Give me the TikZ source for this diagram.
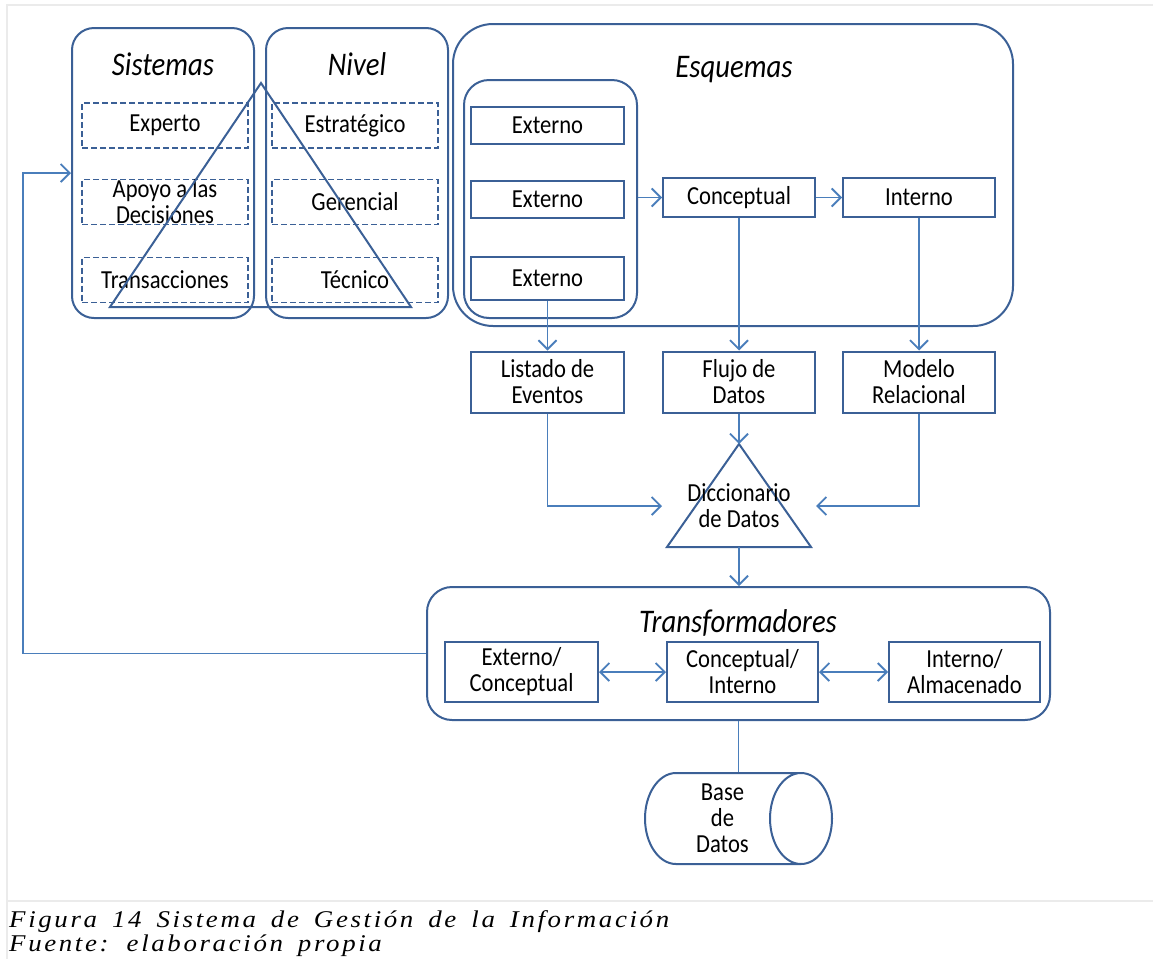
\documentclass[tikz,border=0pt]{standalone}
\usepackage{fontspec}
\setmainfont{Carlito}[FakeStretch=0.87]
\newfontfamily\leyenda{Liberation Serif}[FakeStretch=1.12, LetterSpace=11, WordSpace=1.6]
\usetikzlibrary{shapes,arrows.meta}
\definecolor{azulOsc}{HTML}{3B6096}
\definecolor{azulClaro}{HTML}{4A7EBB}
\definecolor{grisMarco}{HTML}{EBEBEB}

\begin{document}
\begin{tikzpicture}[x=1pt,y=-1pt]
        \tikzstyle{texto}=[font=\fontsize{26}{26}\selectfont, align=center, inner sep=0pt]
        \tikzstyle{titulo}=[font=\fontsize{33}{33}\selectfont\itshape, inner sep=0pt, anchor=base]
        \tikzstyle{caja}=[texto, draw=azulOsc, line width=2pt]
        \tikzstyle{punteada}=[caja, dash pattern=on 6pt off 3pt, line width=1.8pt, minimum width=166pt, minimum height=45pt]
        \tikzstyle{grupo}=[draw=azulOsc, line width=2pt, rounded corners=22pt]
        \tikzstyle{flecha}=[draw=azulClaro, line width=1.8pt, -{Straight Barb[length=9pt,width=18pt]}]
        \tikzstyle{doble}=[draw=azulClaro, line width=1.8pt, {Straight Barb[length=9pt,width=18pt]}-{Straight Barb[length=9pt,width=18pt]}]
        \tikzstyle{linea}=[draw=azulClaro, line width=1.8pt]
        \tikzstyle{leyenda}=[anchor=base west, inner sep=0pt, font=\leyenda\fontsize{24}{24}\selectfont\itshape]
        \useasboundingbox (0,0) rectangle (1153,959);
        \draw[grisMarco, line width=1.5pt] (7,959) -- (7,5) -- (1153,5);
        \draw[grisMarco, line width=1.5pt] (7,901) -- (1153,901);

        \node[grupo, minimum width=182pt, minimum height=290pt] (sis) at (163,173) {};
        \node[grupo, minimum width=182pt, minimum height=290pt] (niv) at (357,173) {};
        \node[titulo] (sistit) at (163,75) {Sistemas};
        \node[titulo] (nivtit) at (357,75) {Nivel};
        \node[punteada] (experto) at (165,125.5) {Experto};
        \node[punteada] (apoyo) at (165,202) {Apoyo a las\\Decisiones};
        \node[punteada] (transac) at (165,280) {Transacciones};
        \node[punteada] (estrat) at (355,125.5) {Estratégico};
        \node[punteada] (geren) at (355,202) {Gerencial};
        \node[punteada] (tecn) at (355,280) {Técnico};
        \draw[azulOsc, line width=2pt] (261,83) -- (411,307) -- (110,307) -- cycle;

        \node[grupo, rounded corners=40pt, minimum width=560pt, minimum height=302pt] (esq) at (733,175) {};
        \node[titulo] (esqtit) at (734,77) {Esquemas};
        \node[grupo, rounded corners=25pt, minimum width=173pt, minimum height=238pt] (ext) at (550.5,199) {};
        \node[caja, minimum width=153pt, minimum height=37pt] (ext1) at (547.5,125.5) {Externo};
        \node[caja, minimum width=153pt, minimum height=37pt] (ext2) at (547.5,199.5) {Externo};
        \node[caja, minimum width=153pt, minimum height=43pt] (ext3) at (547.5,278.5) {Externo};
        \node[caja, minimum width=152pt, minimum height=39pt] (conc) at (739,197.5) {Conceptual};
        \node[caja, minimum width=152pt, minimum height=39pt] (int) at (919,197.5) {Interno};

        \node[caja, minimum width=153pt, minimum height=61pt] (listado) at (547.5,382) {Listado de\\Eventos};
        \node[caja, minimum width=152pt, minimum height=61pt] (flujo) at (739,382) {Flujo de\\Datos};
        \node[caja, minimum width=152pt, minimum height=61pt] (modelo) at (919,382) {Modelo\\Relacional};

        \coordinate (dic1) at (739,444);
        \coordinate (dic2) at (667,547);
        \coordinate (dic3) at (811,547);
        \draw[azulOsc, line width=2pt] (dic1) -- (dic2) -- (dic3) -- cycle;
        \node[texto, minimum width=144pt, outer sep=5pt] (dicc) at (739,506) {Diccionario\\de Datos};

        \node[grupo, rounded corners=25pt, minimum width=623pt, minimum height=133pt] (trans) at (738.5,653.5) {};
        \node[titulo] (transtit) at (738,632) {Transformadores};
        \node[caja, minimum width=153pt, minimum height=60pt] (extconc) at (521.5,672) {Externo/\\Conceptual};
        \node[caja, minimum width=151pt, minimum height=60pt] (concint) at (742.5,672) {Conceptual/\\Interno};
        \node[caja, minimum width=151pt, minimum height=60pt] (intalm) at (964.5,672) {Interno/\\Almacenado};

        \node[cylinder, texto, draw=azulOsc, line width=2pt, aspect=0.9, minimum width=91pt, minimum height=187pt] (bd) at (722.5,818.5) {Base\\de\\Datos};

        \draw[flecha] (ext.east |- conc.west) -- (conc.west);
        \draw[flecha] (conc) -- (int);
        \draw[flecha] (ext3.south) -- (listado.north);
        \draw[flecha] (conc.south) -- (flujo.north);
        \draw[flecha] (int.south) -- (modelo.north);
        \draw[flecha] (listado.south) |- (dicc.west);
        \draw[flecha] (modelo.south) |- (dicc.east);
        \draw[flecha] (flujo.south) -- (dic1);
        \draw[flecha] (dic1 |- dic2) -- (dic1 |- trans.north);
        \draw[doble] (extconc) -- (concint);
        \draw[doble] (concint) -- (intalm);
        \draw[linea] (trans.south) -- (trans.south |- bd.north);
        \draw[flecha] (trans.west) -| ([xshift=-48pt]sis.west) -- (sis.west);

        \node[leyenda] (fig) at (9,927) {Figura 14 Sistema de Gestión de la Información};
        \node[leyenda] (fuente) at (9,951) {Fuente: elaboración propia};
\end{tikzpicture}
\end{document}
